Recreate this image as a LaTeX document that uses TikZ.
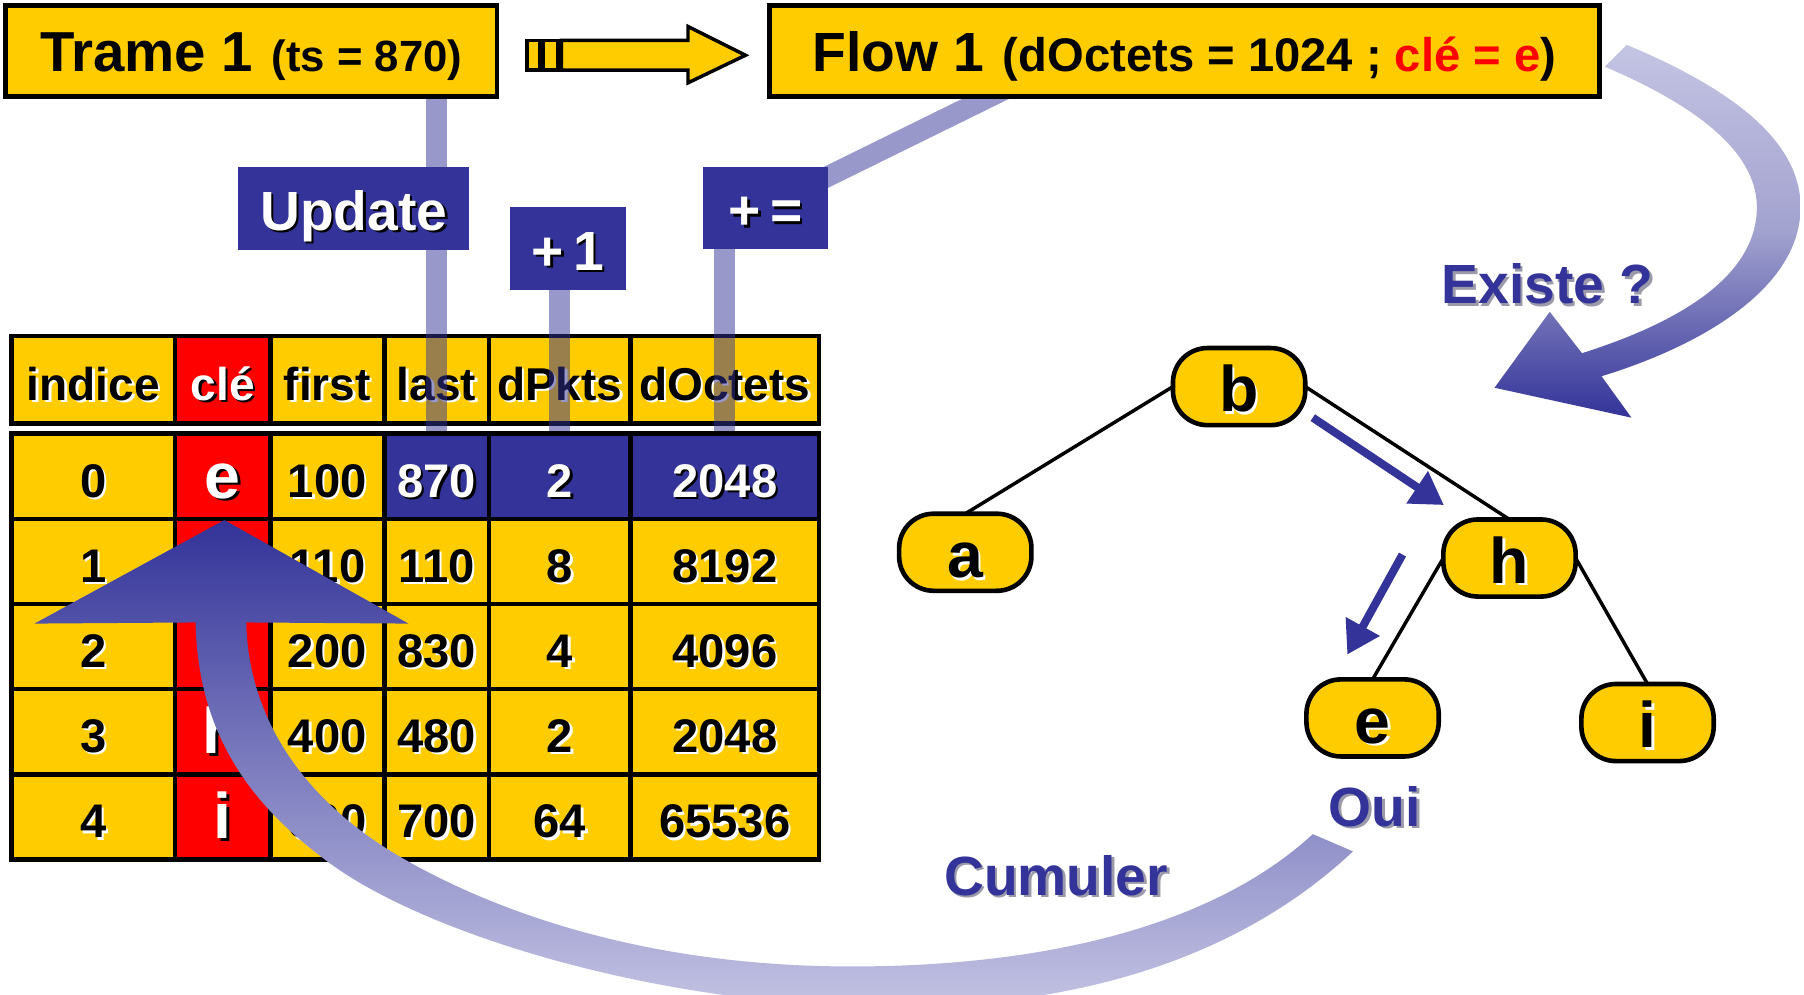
\documentclass[tikz,border=0pt]{standalone}
\usepackage{fontspec}
\setmainfont{Liberation Sans}
\usetikzlibrary{calc,arrows.meta}
\definecolor{gold}{HTML}{FFCC00}
\definecolor{navy}{HTML}{333399}
\definecolor{redcell}{HTML}{FF0000}
\definecolor{paleblue}{HTML}{C4C4E4}
\definecolor{midblue}{HTML}{A2A2CF}
\definecolor{shadowgrey}{HTML}{9A9AAA}

% text with an offset drop shadow: \shd{shadow colour}{text}
\newcommand\shd[2]{\makebox[0pt][l]{\hspace{1.1pt}\raisebox{-1.1pt}{\color{#1}#2}}#2}
\newcommand\bk[1]{\shd{white}{#1}}
\newcommand\wt[1]{\shd{black}{#1}}
% rectangular node given by its corners (x1,y1) and (x2,y2)
\newcommand\boxnode[7]{\node[#6,minimum width={(#4-#2)*0.5pt},minimum height={(#5-#3)*0.5pt}] (#1) at ({(#2+#4)/2},{(#3+#5)/2}) {#7};}

\pgfdeclarelayer{headrow}
\pgfdeclarelayer{links}
\pgfsetlayers{headrow,links,main}

\begin{document}
\begin{tikzpicture}[x=0.5pt,y=-0.5pt,
  every node/.style={inner sep=0pt, outer sep=0pt},
  hdrbox/.style={draw=black, line width=2pt, fill=gold, font=\bfseries, text height=17.8pt, text depth=0pt},
  tagbox/.style={fill=navy, text=white, font=\fontsize{24}{28}\selectfont\bfseries, text height=19pt, text depth=0pt},
  cellY/.style={draw=black, line width=2pt, fill=gold, text=black, font=\fontsize{20.5}{24}\selectfont\bfseries,
    text height=18pt, text depth=0pt},
  cellR/.style={cellY, fill=redcell, text=white},
  cellB/.style={cellY, fill=navy, text=white},
  headfont/.style={font=\fontsize{20}{24}\selectfont\bfseries},
  keyfont/.style={font=\fontsize{28}{30}\selectfont\bfseries, text height=19pt},
  link/.style={draw=navy, draw opacity=0.5, line width=9pt},
  tnode/.style={draw=black, line width=2pt, fill=gold, rounded corners=15pt,
    minimum width=57.5pt, minimum height=33.5pt, font=\fontsize{28}{30}\selectfont\bfseries,
    text height=22pt, text depth=0pt},
  tedge/.style={draw=black, line width=1.5pt},
  walk/.style={draw=navy, line width=3.5pt, -{Triangle[length=14pt,width=16pt]}},
  lab/.style={text=navy, font=\fontsize{24}{28}\selectfont\bfseries}
]
\useasboundingbox (0,0) rectangle (1568,864);
\clip (0,0) rectangle (1568,864);

% ---- table header (lowest layer, the links run over it) ----
\begin{pgfonlayer}{headrow}
\fill[white] (0,0) rectangle (1568,864);
\boxnode{h1}{10}{292}{152}{368}{cellY,headfont}{\bk{indice}}
\boxnode{h2}{152}{292}{235}{368}{cellR,headfont}{\wt{clé}}
\boxnode{h3}{235}{292}{334}{368}{cellY,headfont}{\bk{first}}
\boxnode{h4}{334}{292}{425}{368}{cellY,headfont}{\bk{last}}
\boxnode{h5}{425}{292}{548}{368}{cellY,headfont}{\bk{dPkts}}
\boxnode{h6}{548}{292}{712}{368}{cellY,headfont}{\bk{dOctets}}
\end{pgfonlayer}

% ---- the frame and the flow record ----
\boxnode{trame}{5}{5}{432}{84}{hdrbox}{{\fontsize{24.5}{28}\selectfont Trame 1}\hspace{8pt}{\fontsize{19}{22}\selectfont (ts = 870)}}
\boxnode{flow}{669}{5}{1390}{84}{hdrbox}{{\fontsize{24}{28}\selectfont Flow 1}\hspace{8pt}{\fontsize{20.5}{22}\selectfont (dOctets = 1024 ; \textcolor{redcell}{clé = e})}}

% ---- data rows ----
\boxnode{d00}{10}{377}{152}{451}{cellY}{\bk{0}}
\boxnode{d01}{152}{377}{235}{451}{cellR,keyfont}{\wt{e}}
\boxnode{d02}{235}{377}{334}{451}{cellY}{\bk{100}}
\boxnode{d03}{334}{377}{425}{451}{cellB}{\wt{870}}
\boxnode{d04}{425}{377}{548}{451}{cellB}{\wt{2}}
\boxnode{d05}{548}{377}{712}{451}{cellB}{\wt{2048}}

\boxnode{d10}{10}{451}{152}{525}{cellY}{\bk{1}}
\boxnode{d11}{152}{451}{235}{525}{cellR}{}
\boxnode{d12}{235}{451}{334}{525}{cellY}{\bk{110}}
\boxnode{d13}{334}{451}{425}{525}{cellY}{\bk{110}}
\boxnode{d14}{425}{451}{548}{525}{cellY}{\bk{8}}
\boxnode{d15}{548}{451}{712}{525}{cellY}{\bk{8192}}

\boxnode{d20}{10}{525}{152}{599}{cellY}{\bk{2}}
\boxnode{d21}{152}{525}{235}{599}{cellR}{}
\boxnode{d22}{235}{525}{334}{599}{cellY}{\bk{200}}
\boxnode{d23}{334}{525}{425}{599}{cellY}{\bk{830}}
\boxnode{d24}{425}{525}{548}{599}{cellY}{\bk{4}}
\boxnode{d25}{548}{525}{712}{599}{cellY}{\bk{4096}}

\boxnode{d30}{10}{599}{152}{673}{cellY}{\bk{3}}
\boxnode{d31}{152}{599}{235}{673}{cellR,keyfont}{\wt{h}}
\boxnode{d32}{235}{599}{334}{673}{cellY}{\bk{400}}
\boxnode{d33}{334}{599}{425}{673}{cellY}{\bk{480}}
\boxnode{d34}{425}{599}{548}{673}{cellY}{\bk{2}}
\boxnode{d35}{548}{599}{712}{673}{cellY}{\bk{2048}}

\boxnode{d40}{10}{673}{152}{747}{cellY}{\bk{4}}
\boxnode{d41}{152}{673}{235}{747}{cellR,keyfont}{\wt{i}}
\boxnode{d42}{235}{673}{334}{747}{cellY}{\bk{600}}
\boxnode{d43}{334}{673}{425}{747}{cellY}{\bk{700}}
\boxnode{d44}{425}{673}{548}{747}{cellY}{\bk{64}}
\boxnode{d45}{548}{673}{712}{747}{cellY}{\bk{65536}}

% ---- operation tags ----
\boxnode{upd}{207}{145}{408}{217}{tagbox}{\wt{Update}}
\boxnode{plusone}{443}{180}{544}{252}{tagbox}{\wt{+\,1}}
\boxnode{pluseq}{611}{145}{720}{216}{tagbox}{\wt{+\,=}}

% ---- translucent links from the records to the updated fields ----
\begin{pgfonlayer}{links}
\draw[link] (trame.south -| h4) -- (d03.north);
\draw[link] (plusone.south -| h5) -- (d04.north);
\draw[link] (pluseq.south -| h6) -- (d05.north);
\draw[link] ($(flow.south west)+(220,-14)$) -- ($(pluseq.east)+(-15,-20)$);
\end{pgfonlayer}

% ---- block arrow from the frame to the flow ----
\begin{scope}[draw=black, line width=1.5pt]
  \filldraw[fill=gold] (458,35) rectangle (469,61);
  \filldraw[fill=gold] (472,35) rectangle (485,61);
  \filldraw[fill=gold] (488,35) -- (598,35) -- (598,23) -- (648,48)
    -- (598,72) -- (598,61) -- (488,61) -- cycle;
\end{scope}

% ---- search tree ----
\node[tnode] (b) at (1077,336) {\bk{b}};
\node[tnode] (a) at (839,480) {\bk{a}};
\node[tnode] (h) at (1312,485) {\bk{h}};
\node[tnode] (e) at (1193,624) {\bk{e}};
\node[tnode] (i) at (1432,628) {\bk{i}};
\draw[tedge] (b.west) -- (a.north);
\draw[tedge] (b.east) -- (h.north);
\draw[tedge] (h.west) -- (e.north);
\draw[tedge] (h.east) -- (i.north);

\coordinate (w1s) at (1141,363);
\coordinate (w1e) at (1255,439);
\coordinate (w2s) at (1219,482);
\coordinate (w2e) at (1171,569);
\draw[walk] (w1s) -- (w1e);
\draw[walk] (w2s) -- (w2e);

\node[lab] (existe) at (1345,248) {\shd{shadowgrey}{Existe ?}};
\node[lab] (oui) at (1195,702) {\shd{shadowgrey}{Oui}};
\node[lab] (cumul) at (918,762) {\shd{shadowgrey}{Cumuler}};

% ---- lookup arrow: flow key into the tree ----
\shade[top color=paleblue, bottom color=navy, middle color=midblue]
  (1414,39) .. controls (1500,75) and (1565,120) .. (1565,180)
  .. controls (1565,250) and (1480,300) .. (1392,327)
  -- (1418,363) -- (1299,337) -- (1347,271) -- (1375,307)
  .. controls (1460,280) and (1527,240) .. (1527,180)
  .. controls (1527,130) and (1470,90) .. (1395,58) -- cycle;

% ---- accumulate arrow: back into the table row ----
\shade[top color=navy, bottom color=paleblue]
  (1176,740) .. controls (1080,830) and (940,878) .. (760,875)
  .. controls (560,872) and (360,808) .. (281,746)
  .. controls (220,700) and (172,640) .. (170,541)
  -- (30,542) -- (195,452) -- (355,542) -- (214,541)
  .. controls (216,630) and (270,700) .. (350,746)
  .. controls (430,792) and (560,840) .. (740,840)
  .. controls (920,840) and (1060,800) .. (1141,725) -- cycle;
\end{tikzpicture}
\end{document}
